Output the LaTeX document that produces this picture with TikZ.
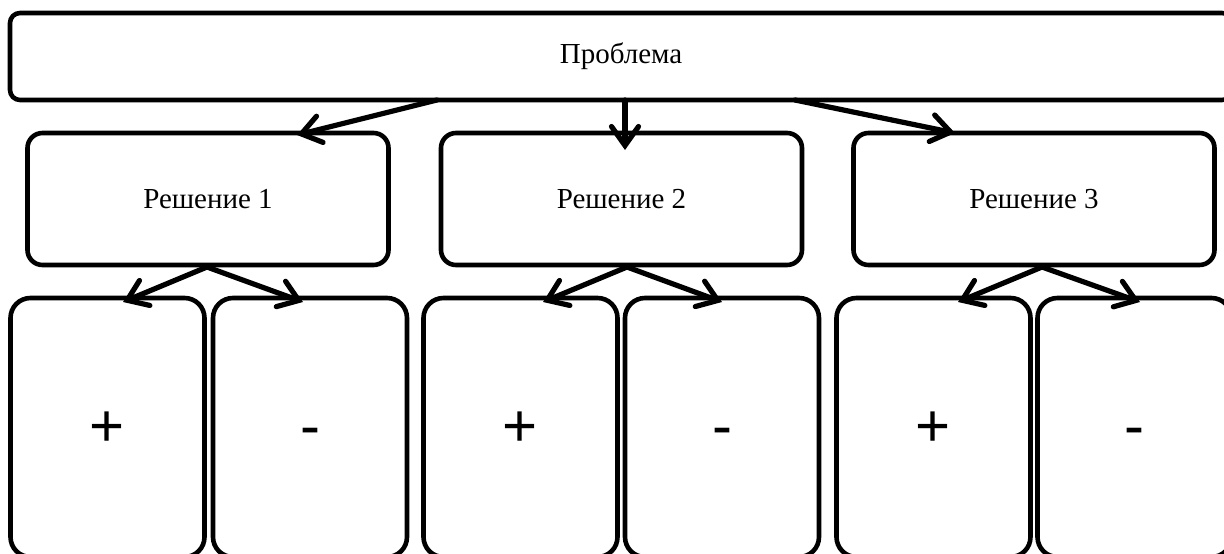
\documentclass[tikz,border=0pt]{standalone}
\usepackage{fontspec}
\setmainfont{Liberation Serif}
\newfontfamily\signfont{Liberation Sans}
\usetikzlibrary{arrows.meta,calc}

\begin{document}
\begin{tikzpicture}[x=1pt,y=-1pt,
  > = {Straight Barb[length=19pt,width=27pt,line cap=round]},
  box/.style={draw,line width=4.6pt,rounded corners=#1,inner sep=0pt,outer sep=0pt},
  solbox/.style={box=15pt,minimum width=361pt,minimum height=132pt,font=\fontsize{29}{32}\selectfont},
  signbox/.style={box=20pt,minimum width=194pt,minimum height=259pt,text height=38pt,text depth=0pt,font=\signfont\fontsize{60}{62}\selectfont},
  arrow/.style={->,line width=5.2pt,line cap=round}]
\useasboundingbox (0,0) rectangle (1224,554);

\node[box=10pt,minimum width=1222pt,minimum height=87pt,font=\fontsize{29}{32}\selectfont] (problem) at (621,56.5) {Проблема};

\foreach \n/\x in {1/208,2/621.5,3/1034}
  \node[solbox] (sol\n) at (\x,199) {Решение \n};

\foreach \n/\xp/\xc in {1/107.5/310,2/520.5/722,3/933.5/1134.5}{
  \node[signbox] (pro\n) at (\xp,427.5) {+};
  \node[signbox] (con\n) at (\xc,427.5) {-};
}

\draw[arrow] ($(problem.south)+(-184,0)$) -- ($(sol1.north)+(89,2)$);
\draw[arrow] ($(problem.south)+(4,0)$) -- ($(sol2.north)+(3.5,17)$);
\draw[arrow] ($(problem.south)+(174,0)$) -- ($(sol3.north)+(-79,0)$);

\foreach \n/\s/\l/\r in {1/-1/15.5/-7,2/5.5/22.5/0,3/8/24.5/5.5}{
  \draw[arrow] ($(sol\n.south)+(\s,2)$) -- ($(pro\n.north)+(\l,4)$);
  \draw[arrow] ($(sol\n.south)+(\s,2)$) -- ($(con\n.north)+(\r,4)$);
}
\end{tikzpicture}
\end{document}
